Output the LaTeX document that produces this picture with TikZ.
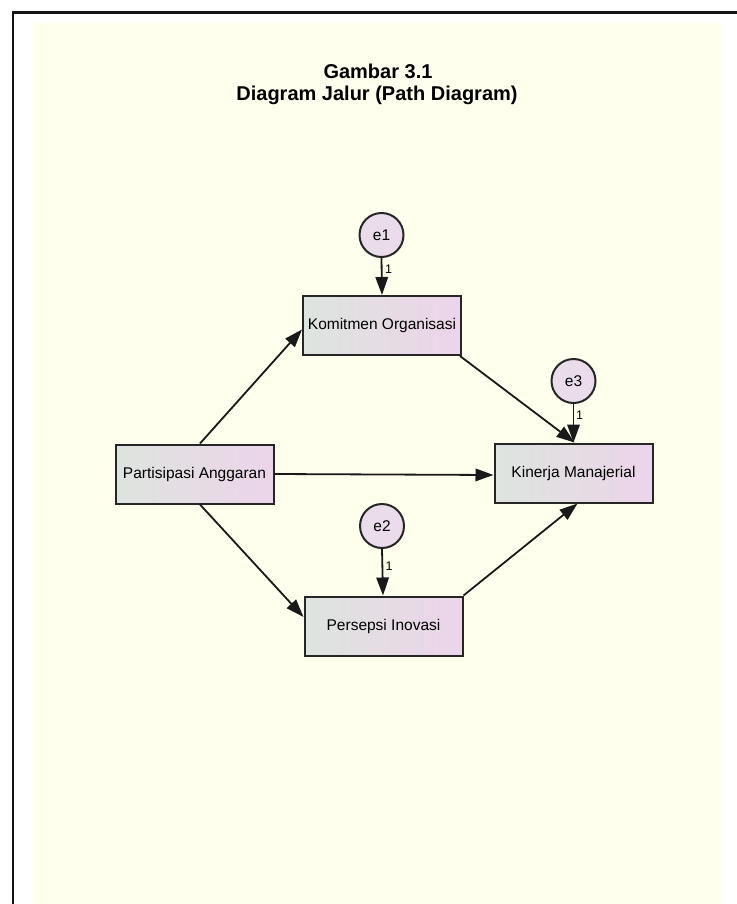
\documentclass[tikz,border=0pt]{standalone}
\usepackage{fontspec}
\setmainfont{Liberation Sans}
\usetikzlibrary{arrows.meta}
\definecolor{bg}{HTML}{FFFFEE}
\definecolor{boxL}{HTML}{DEE4DF}
\definecolor{boxR}{HTML}{ECD4E9}
\definecolor{circ}{HTML}{EBDCEB}
\definecolor{frame}{HTML}{141414}
\tikzset{
  var/.style={draw=black!85, line width=2pt, left color=boxL, right color=boxR,
    minimum width=158pt, minimum height=59pt, inner sep=0pt,
    font=\fontsize{15.5}{18}\selectfont},
  err/.style={draw=black!85, line width=2pt, fill=circ, circle, minimum size=44pt,
    inner sep=0pt, font=\fontsize{15.5}{18}\selectfont},
  path/.style={line width=1.8pt, black!90, -{Triangle[length=18pt,width=12.5pt]}},
  one/.style={font=\fontsize{12.5}{14}\selectfont, inner sep=0pt},
  ttl/.style={font=\bfseries\fontsize{20}{24}\selectfont, anchor=base, inner sep=0pt}
}
\begin{document}
\begin{tikzpicture}[x=1pt,y=-1pt]
\useasboundingbox (0,0) rectangle (736,904);
\fill[bg] (34,23) rectangle (722,904);
\draw[frame, line width=2.5pt] (737,12.5) -- (13,12.5) -- (13,905);

\node[ttl] (t1) at (378,79) {Gambar 3.1};
\node[ttl] (t2) at (377,101) {Diagram Jalur (Path Diagram)};

\node[var] (ko) at (382,325.5) {Komitmen Organisasi};
\node[var] (pa) at (194.5,474) {Partisipasi Anggaran};
\node[var] (km) at (573.5,473) {Kinerja Manajerial};
\node[var] (pi) at (383.5,626) {Persepsi Inovasi};

\node[err] (e1) at (381.5,235) {e1};
\node[err] (e3) at (573.5,381) {e3};
\node[err] (e2) at (382,526) {e2};

\draw[path] (e1.south) -- (ko.north);
\draw[path] (e3.south) -- (km.north);
\draw[path] (e2.south) -- ([xshift=-0.5pt]pi.north);

\node[one] (l1) at (388.5,269) {1};
\node[one] (l3) at (579.5,415) {1};
\node[one] (l2) at (389,566) {1};

\draw[path] ([xshift=5.5pt]pa.north) -- ([yshift=-4pt]ko.west);
\draw[path] ([xshift=5.5pt]pa.south) -- ([yshift=9pt]pi.west);
\draw[path] (pa.east) -- ([yshift=-2pt]km.west);
\draw[path] ([xshift=-2pt]ko.south east) -- ([xshift=1pt]km.north);
\draw[path] (pi.north east) -- ([xshift=4pt]km.south);
\end{tikzpicture}
\end{document}
